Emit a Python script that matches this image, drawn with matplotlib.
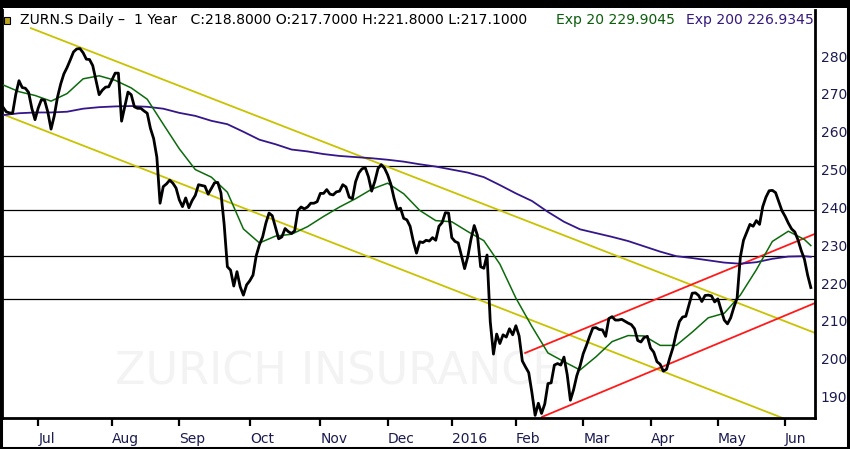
import matplotlib
matplotlib.use("Agg")
import matplotlib.pyplot as plt
from matplotlib.patches import Rectangle
import numpy as np

# ---------------- data ----------------
close = [
    266.5, 265.3, 265.0, 264.9, 269.9, 273.5, 271.7, 271.5, 270.4, 266.2,
    263.2, 266.3, 268.5, 268.3, 265.2, 260.7, 264.2, 269.1, 272.6, 275.3,
    277.0, 279.0, 281.1, 281.9, 282.0, 280.9, 279.2, 279.1, 277.5, 273.6,
    269.8, 271.0, 271.8, 271.9, 273.7, 275.5, 275.5, 262.8, 266.6, 270.5,
    269.8, 266.6, 266.2, 266.2, 265.5, 264.9, 260.9, 258.2, 253.3, 241.1,
    245.5, 246.2, 247.2, 246.4, 245.1, 242.0, 240.2, 242.5, 239.9, 241.8,
    243.2, 246.0, 245.8, 245.6, 243.5, 245.0, 246.5, 246.6, 243.8, 235.5,
    224.3, 223.4, 219.2, 223.0, 219.0, 216.8, 219.5, 220.6, 222.1, 227.2,
    230.1, 232.2, 235.8, 238.5, 237.8, 234.7, 231.7, 232.2, 234.4, 233.6,
    233.1, 233.8, 239.2, 240.1, 239.6, 240.1, 241.1, 241.1, 241.5, 243.7,
    243.7, 244.7, 243.5, 243.3, 244.1, 244.3, 246.0, 245.4, 242.7, 242.3,
    246.8, 249.1, 250.2, 250.5, 248.1, 244.3, 246.9, 250.3, 251.3, 250.4,
    248.6, 246.1, 242.4, 239.4, 239.8, 237.1, 236.7, 235.0, 231.0, 227.9,
    230.9, 230.7, 231.3, 231.1, 232.0, 231.3, 235.0, 236.0, 238.6, 238.5,
    232.0, 231.0, 230.6, 227.3, 223.8, 227.0, 231.6, 235.2, 232.6, 224.3,
    223.9, 227.4, 209.8, 201.2, 206.5, 204.0, 206.3, 205.7, 207.9, 206.3,
    208.7, 206.0, 199.4, 197.8, 196.3, 191.0, 185.0, 188.2, 185.5, 188.0,
    193.4, 193.6, 198.3, 198.7, 198.3, 200.4, 195.8, 189.0, 191.8, 195.5,
    198.0, 201.3, 203.5, 205.9, 208.1, 208.2, 207.7, 207.6, 205.9, 210.6,
    211.1, 210.2, 210.2, 210.4, 209.9, 209.4, 209.0, 207.9, 204.8, 204.4,
    205.6, 205.9, 202.8, 201.7, 199.2, 198.5, 196.7, 197.2, 200.2, 202.9,
    206.7, 209.8, 211.0, 211.2, 214.2, 217.3, 217.4, 216.7, 215.1, 216.7,
    216.8, 216.6, 215.0, 215.8, 212.9, 210.2, 209.2, 210.8, 213.6, 216.0,
    226.8, 231.3, 233.4, 235.5, 235.0, 236.5, 235.5, 240.2, 242.7, 244.4,
    244.5, 243.9, 241.5, 239.1, 237.6, 235.8, 234.3, 233.5, 231.4, 228.6,
    226.3, 222.1, 218.8,
]

ema_idx = [0, 5, 10, 15, 20, 25, 30, 35, 40, 45, 50, 55, 60, 65, 70, 75, 80,
           85, 90, 95, 100, 105, 110, 115, 120, 125, 130, 135, 140, 145, 150,
           155, 160, 165, 170, 175, 180, 185, 190, 195, 200, 205, 210, 215,
           220, 225, 230, 235, 240, 245, 250, 252]
ema20 = [272.4, 270.6, 269.6, 268.1, 270.1, 274.0, 274.8, 273.6, 271.6, 268.6,
         262.0, 255.5, 250.0, 248.0, 244.0, 234.3, 230.6, 232.4, 232.9, 234.9,
         237.6, 240.1, 242.3, 244.8, 246.4, 243.6, 239.2, 236.5, 236.2, 233.6,
         231.2, 225.0, 216.0, 208.5, 201.5, 199.2, 197.0, 200.5, 204.5, 206.1,
         206.0, 203.5, 203.5, 207.0, 210.8, 212.0, 216.8, 223.5, 231.0, 233.7,
         231.5, 229.9045]
ema200 = [264.4, 264.9, 265.1, 265.1, 265.3, 266.1, 266.5, 266.7, 266.8, 266.6,
          266.1, 265.0, 264.2, 262.9, 262.0, 260.0, 257.9, 256.7, 255.3, 254.8,
          254.1, 253.6, 253.3, 253.0, 252.6, 252.1, 251.4, 250.8, 250.0, 249.2,
          248.0, 245.9, 243.7, 241.7, 238.8, 236.2, 234.2, 233.2, 232.2, 231.1,
          229.7, 228.3, 227.1, 226.6, 226.0, 225.4, 225.1, 225.5, 226.4, 227.0,
          227.1, 226.9345]

# trend channels: (start index, start value, end index, end value)
yellow_upper = [8.7, 287.4, 253.3, 206.8]
yellow_lower = [0.0, 264.6, 243.2, 184.3]
red_upper = [162.9, 201.5, 253.3, 233.0]
red_lower = [168.2, 184.6, 253.3, 214.7]

hlines = [251.0, 239.3, 227.2, 215.7]

month_idx = [11, 34, 55, 77, 99, 120, 140, 160, 181, 202, 223, 244]
month_labels = ["Jul", "Aug", "Sep", "Oct", "Nov", "Dec", "2016", "Feb",
                "Mar", "Apr", "May", "Jun"]
y_ticks = [190, 200, 210, 220, 230, 240, 250, 260, 270, 280]

header_main = "ZURN.S Daily \u2013  1 Year   C:218.8000 O:217.7000 H:221.8000 L:217.1000"
header_e20 = "Exp 20 229.9045"
header_e200 = "Exp 200 226.9345"
watermark = "ZURICH INSURANCE"

# ---------------- figure ----------------
W, H = 850, 449
fig = plt.figure(figsize=(W / 100, H / 100), dpi=100, facecolor="white")
ax = fig.add_axes([2 / W, 31 / H, (815 - 2) / W, (418 - 10) / H])
ax.set_facecolor("white")

x = np.arange(len(close))
navy = "#1b1b50"

ax.text(113 / 813, 1 - 362 / 408, watermark, transform=ax.transAxes,
        fontsize=32, color="#f3f3f3", ha="left", va="center", zorder=0)

for h in hlines:
    ax.axhline(h, color="black", lw=0.9, zorder=1)

for seg, col in [(yellow_upper, "#c9c200"), (yellow_lower, "#c9c200"),
                 (red_upper, "#ff1a1a"), (red_lower, "#ff1a1a")]:
    ax.plot([seg[0], seg[2]], [seg[1], seg[3]], color=col, lw=1.3, zorder=2)

ax.plot(ema_idx, ema200, color="#35168a", lw=1.3, zorder=3)
ax.plot(ema_idx, ema20, color="#0b6b0b", lw=1.1, zorder=3)
ax.plot(x, close, color="black", lw=2.0, zorder=4, solid_joinstyle="round")

ax.set_xlim(-0.3, 253.3)
ax.set_ylim(184.3, 292.2)

ax.yaxis.tick_right()
ax.set_yticks(y_ticks)
ax.set_yticklabels([str(v) for v in y_ticks])
ax.tick_params(axis="y", length=0, pad=4, labelsize=10, labelcolor=navy)

ax.set_xticks(month_idx)
ax.set_xticklabels(month_labels, ha="left")
ax.tick_params(axis="x", direction="out", length=6, width=1.6, pad=4,
               labelsize=10, labelcolor=navy, color="black")

for side in ["left", "bottom", "right"]:
    ax.spines[side].set_linewidth(2.0)
    ax.spines[side].set_color("black")
ax.spines["top"].set_visible(False)

# header
fs = 10.1
fig.text(20 / W, 1 - 20 / H, header_main, fontsize=fs, color="black",
         ha="left", va="center")
fig.text(556 / W, 1 - 20 / H, header_e20, fontsize=fs, color="#0c5e0c",
         ha="left", va="center")
fig.text(686 / W, 1 - 20 / H, header_e200, fontsize=fs, color="#36197e",
         ha="left", va="center")
fig.add_artist(Rectangle((4 / W, 1 - 24 / H), 6 / W, 7 / H,
                         transform=fig.transFigure, facecolor="#b9a41a",
                         edgecolor="black", lw=0.8))

# outer frame
fig.add_artist(Rectangle((0, 1 - 8 / H), 1, 8 / H, transform=fig.transFigure,
                         facecolor="black", edgecolor="none"))
fig.add_artist(Rectangle((1 / W, 1.5 / H), (W - 3) / W, (H - 3) / H,
                         transform=fig.transFigure, facecolor="none",
                         edgecolor="black", lw=2.2))

fig.savefig("out.png", dpi=100, facecolor="white")
